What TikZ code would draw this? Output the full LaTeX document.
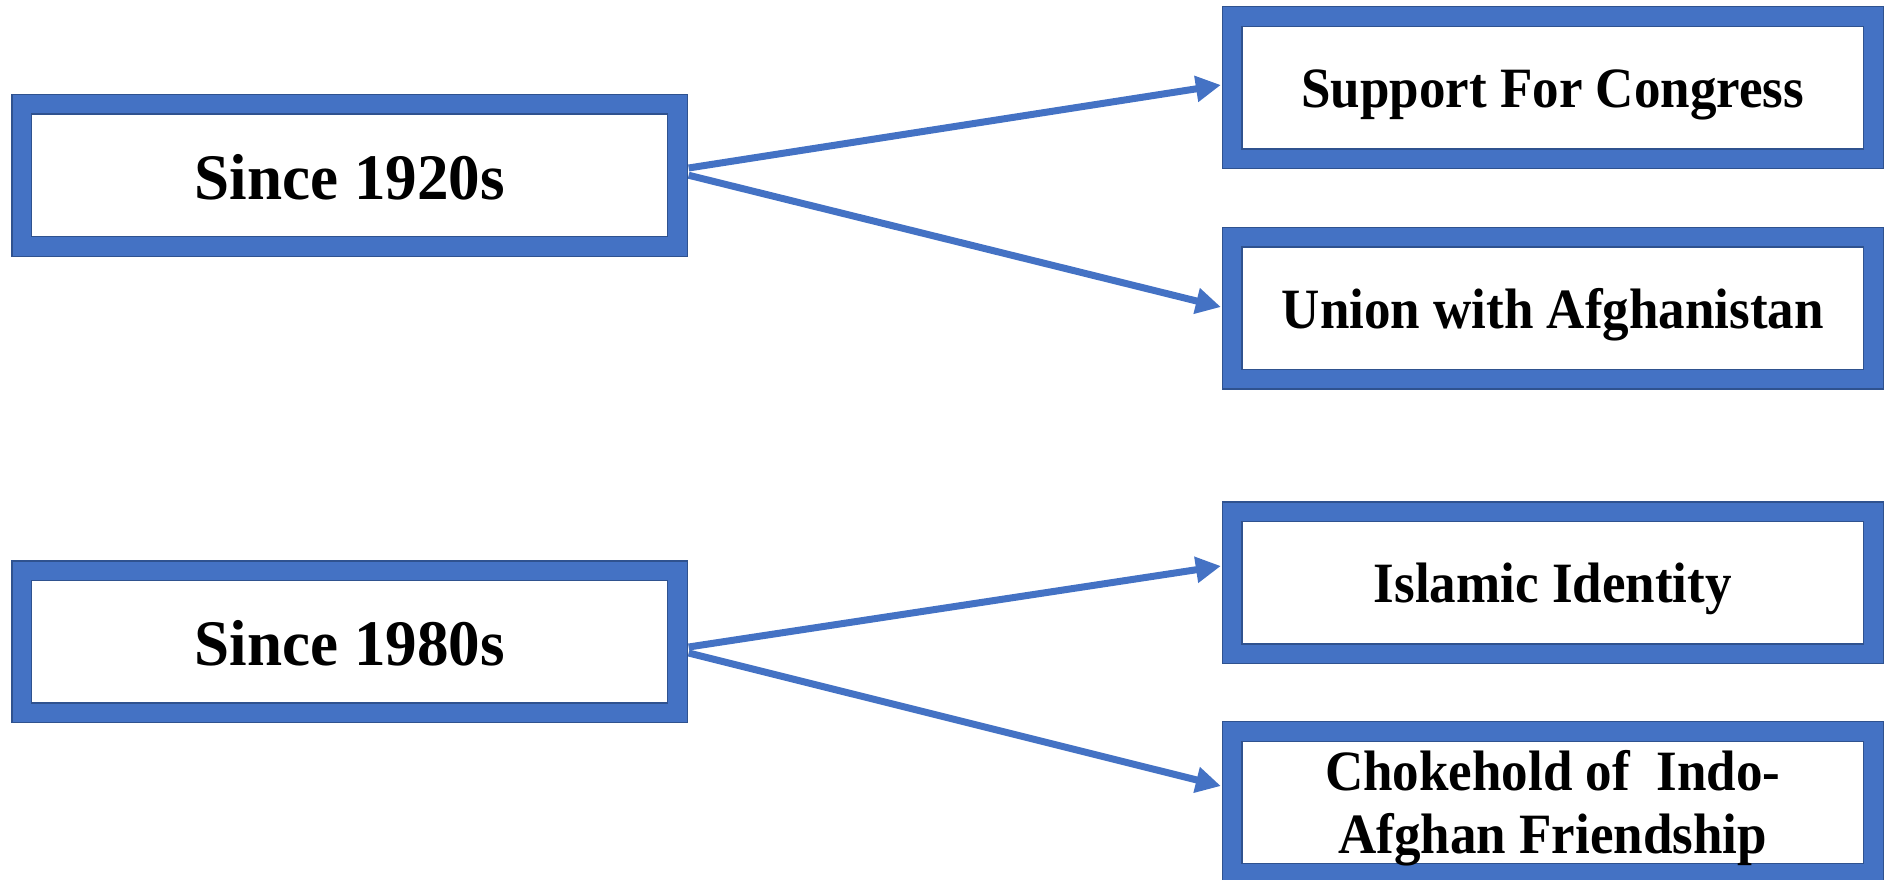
\documentclass[tikz,border=0pt]{standalone}
\usepackage{fontspec}
\setmainfont{Liberation Serif}
\newfontfamily\leftfont[FakeStretch=0.97]{Liberation Serif}
\newfontfamily\rightfont[FakeStretch=0.93]{Liberation Serif}
\usetikzlibrary{arrows.meta}
\definecolor{boxblue}{HTML}{4472C4}
\definecolor{edgeblue}{HTML}{2F528F}
\begin{document}
\begin{tikzpicture}[x=0.4pt,y=-0.4pt,
  frame/.style={draw=edgeblue, line width=0.5pt, double=boxblue, double distance=7.4pt, fill=white, inner sep=0pt, minimum height=56.8pt},
  leftbox/.style={frame, minimum width=262.2pt, text height=22pt, text depth=3pt, font=\leftfont\bfseries\fontsize{26}{30}\selectfont},
  rightbase/.style={frame, minimum width=256.6pt, font=\rightfont\bfseries\fontsize{22.8}{25.2}\selectfont},
  rightbox/.style={rightbase, text height=20pt, text depth=4pt},
  conn/.style={draw=boxblue, line width=2.8pt, -{Triangle[length=10pt,width=10pt]}}
]
\useasboundingbox (0,0) rectangle (1884,879);
\node[leftbox] (l1) at (349.75,175.25) {Since 1920s};
\node[leftbox] (l2) at (349.75,641.75) {Since 1980s};
\node[rightbox] (r1) at (1552.75,87.75) {Support For Congress};
\node[rightbox] (r2) at (1552.75,308) {Union with Afghanistan};
\node[rightbox] (r3) at (1552.75,582.75) {Islamic Identity};
\node[rightbase] (r4) at (1552.75,802.5) {\raisebox{0pt}[\dimexpr\height+5.8pt\relax][\depth]{\begin{tabular}{@{}c@{}}Chokehold of\ \ Indo-\\Afghan Friendship\end{tabular}}};
\draw[conn] ([xshift=4.2pt,yshift=2.9pt]l1.east) -- ([xshift=-4.2pt,yshift=1.1pt]r1.west);
\draw[conn] ([xshift=4.2pt]l1.east) -- ([xshift=-4.2pt,yshift=0.4pt]r2.west);
\draw[conn] ([xshift=4.2pt,yshift=-2.1pt]l2.east) -- ([xshift=-4.2pt,yshift=6.7pt]r3.west);
\draw[conn] ([xshift=4.2pt,yshift=-4.5pt]l2.east) -- ([xshift=-4.2pt,yshift=6.6pt]r4.west);
\end{tikzpicture}
\end{document}
